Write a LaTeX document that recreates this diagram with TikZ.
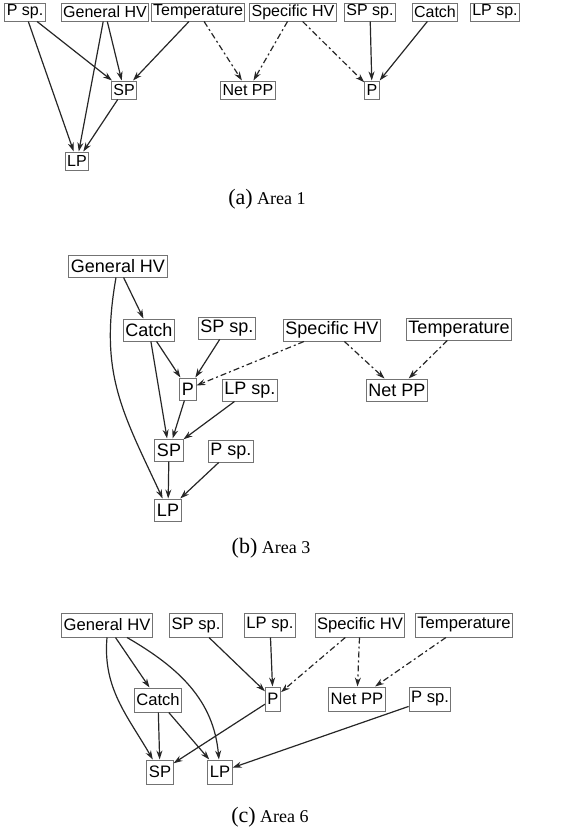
\documentclass[tikz,border=0pt]{standalone}
\usepackage{fontspec}
\setmainfont{Liberation Serif}
\newfontfamily\boxfont{Liberation Sans}
\usepackage{tikz}
\usetikzlibrary{arrows.meta}

\begin{document}
\begin{tikzpicture}[x=0.5pt, y=-0.5pt,
		t/.style = {rectangle, draw=black!55, line width=0.5pt, inner xsep=1pt, inner ysep=0pt, font=\boxfont},
		r/.style = {-{Stealth[length=4.5pt, width=3pt]}, line width=0.6pt, black!85},
		rd/.style = {r, dash pattern=on 3pt off 1.5pt on 1pt off 1.5pt},
		subcap/.style = {font=\fontsize{9}{9}\selectfont, inner sep=0pt}
		]
		\useasboundingbox (0, 0) rectangle (573, 832);

		%Area 1
		\begin{scope}[t/.append style = {font=\boxfont\fontsize{8}{8}\selectfont, minimum height=9pt}]
		\node[t]	(aPsp)	at	(25, 12)	{P sp.};
		\node[t]	(aGen)	at	(105, 12)	{General HV};
		\node[t]	(aTemp)	at	(198, 12)	{Temperature};
		\node[t]	(aSpec)	at	(293, 12)	{Specific HV};
		\node[t]	(aSPsp)	at	(370, 12)	{SP sp.};
		\node[t]	(aCatch)	at	(435, 12)	{Catch};
		\node[t]	(aLPsp)	at	(495, 12)	{LP sp.};
		\node[t]	(aSP)	at	(124, 90)	{SP};
		\node[t]	(aNet)	at	(248, 90)	{Net PP};
		\node[t]	(aP)	at	(372, 90)	{P};
		\node[t]	(aLP)	at	(77, 161)	{LP};
		\node[subcap]	(capa)	at	(267, 199)	{{\fontsize{11}{11}\selectfont (a)} Area 1};

		\draw[r]	(aPsp)	to	(aSP);
		\draw[r]	(aPsp)	to	(aLP);
		\draw[r]	(aGen)	to	(aSP);
		\draw[r]	(aGen)	to	(aLP);
		\draw[r]	(aTemp)	to	(aSP);
		\draw[rd]	(aTemp)	to	(aNet);
		\draw[rd]	(aSpec)	to	(aNet);
		\draw[rd]	(aSpec)	to	(aP);
		\draw[r]	(aSPsp)	to	(aP);
		\draw[r]	(aCatch)	to	(aP);
		\draw[r]	(aSP)	to	(aLP);
		\end{scope}

		%Area 3
		\begin{scope}[t/.append style = {font=\boxfont\fontsize{9}{9}\selectfont, minimum height=11pt}]
		\node[t]	(bGen)	at	(118, 266)	{General HV};
		\node[t]	(bCatch)	at	(149, 330)	{Catch};
		\node[t]	(bSPsp)	at	(227, 328)	{SP sp.};
		\node[t]	(bSpec)	at	(332, 330)	{Specific HV};
		\node[t]	(bTemp)	at	(459, 329)	{Temperature};
		\node[t]	(bP)	at	(188, 389)	{P};
		\node[t]	(bLPsp)	at	(250, 390)	{LP sp.};
		\node[t]	(bNet)	at	(397, 390)	{Net PP};
		\node[t]	(bSP)	at	(169, 450)	{SP};
		\node[t]	(bPsp)	at	(231, 451)	{P sp.};
		\node[t]	(bLP)	at	(168, 510)	{LP};
		\node[subcap]	(capb)	at	(271, 548)	{{\fontsize{11}{11}\selectfont (b)} Area 3};

		\draw[r]	(bGen)	to	(bCatch);
		\draw[r]	([xshift=-1pt]bGen.south)	to[out=-100, in=115, looseness=1.1]	(bLP);
		\draw[r]	(bCatch)	to	(bP);
		\draw[r]	(bCatch)	to	(bSP);
		\draw[r]	(bSPsp)	to	(bP);
		\draw[rd]	(bSpec)	to	(bP);
		\draw[rd]	(bSpec)	to	(bNet);
		\draw[rd]	(bTemp)	to	(bNet);
		\draw[r]	(bP)	to	(bSP);
		\draw[r]	(bLPsp)	to	(bSP);
		\draw[r]	(bSP)	to	(bLP);
		\draw[r]	(bPsp)	to	(bLP);
		\end{scope}

		%Area 6
		\begin{scope}[t/.append style = {font=\boxfont\fontsize{8.3}{8.3}\selectfont, minimum height=12pt}]
		\node[t]	(cGen)	at	(107, 625)	{General HV};
		\node[t]	(cSPsp)	at	(196, 625)	{SP sp.};
		\node[t]	(cLPsp)	at	(270, 625)	{LP sp.};
		\node[t]	(cSpec)	at	(360, 625)	{Specific HV};
		\node[t]	(cTemp)	at	(464, 625)	{Temperature};
		\node[t]	(cCatch)	at	(158, 700)	{Catch};
		\node[t]	(cP)	at	(273, 699)	{P};
		\node[t]	(cNet)	at	(357, 699)	{Net PP};
		\node[t]	(cPsp)	at	(430, 699)	{P sp.};
		\node[t]	(cSP)	at	(160, 772)	{SP};
		\node[t]	(cLP)	at	(220, 772)	{LP};
		\node[subcap]	(capc)	at	(270, 817)	{{\fontsize{11}{11}\selectfont (c)} Area 6};

		\draw[r]	(cGen.south)	to[out=-95, in=120]	(cSP);
		\draw[r]	(cGen)	to	(cCatch);
		\draw[r]	([xshift=10pt]cGen.south)	to[out=-30, in=95]	(cLP);
		\draw[r]	(cSPsp)	to	(cP);
		\draw[r]	(cLPsp)	to	(cP);
		\draw[rd]	(cSpec)	to	(cP);
		\draw[rd]	(cSpec)	to	(cNet);
		\draw[rd]	(cTemp)	to	(cNet);
		\draw[r]	(cCatch)	to	(cSP);
		\draw[r]	(cCatch)	to	(cLP);
		\draw[r]	(cP)	to	(cSP);
		\draw[r]	(cPsp)	to	(cLP);
		\end{scope}
	\end{tikzpicture}
\end{document}
